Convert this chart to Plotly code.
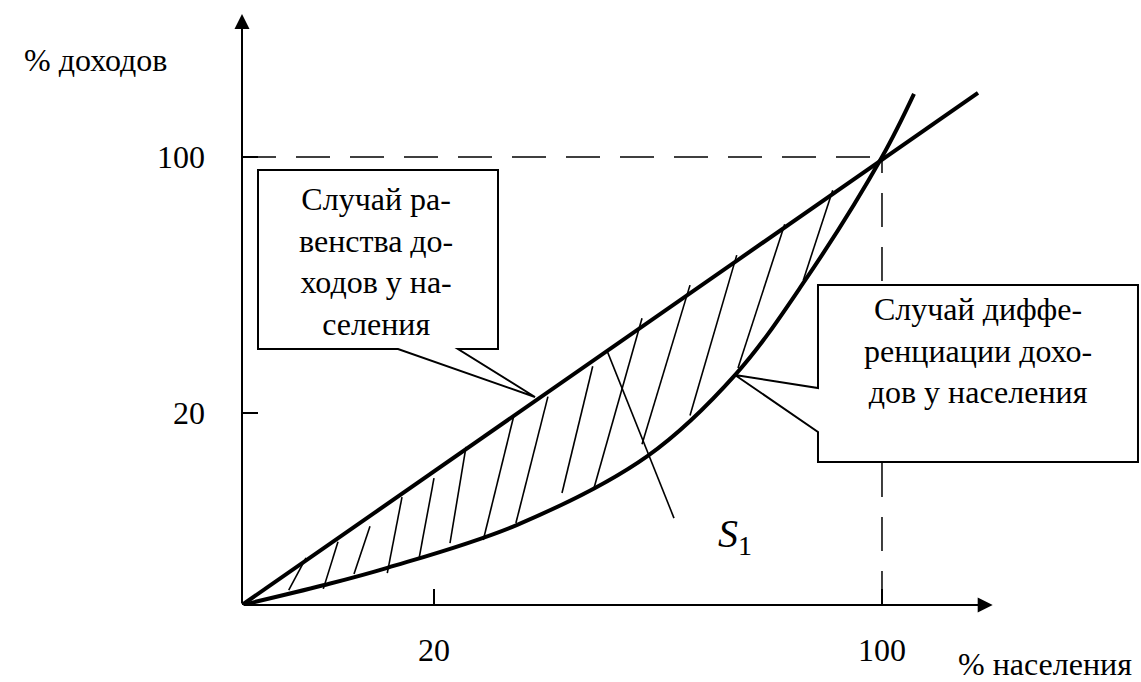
import plotly.graph_objects as go

# ---------------- data (schematic units: 100 = full population / full income) ----------------
lorenz_x = [0, 12.7, 22.7, 43.0, 63.4, 77.2, 88.0, 100, 105.0]
lorenz_y = [0, 4.4, 8.3, 17.9, 33.3, 51.6, 72.5, 100, 114.1]

equality_x = [0, 100, 115]
equality_y = [0, 99.4, 114.3]

hatch_x0 = [7.3, 12.7, 17.5, 22.7, 27.7, 32.5, 37.7, 42.8, 50.0, 55.0, 62.5, 70.0, 77.5, 87.7]
hatch_y0 = [3.3, 3.6, 6.9, 7.1, 10.7, 13.8, 14.5, 18.3, 25.0, 26.1, 35.9, 42.3, 52.9, 72.5]
hatch_x1 = [10.0, 15.0, 20.0, 25.0, 30.0, 35.0, 42.5, 47.8, 54.8, 62.5, 70.0, 77.3, 84.8, 92.3]
hatch_y1 = [10.5, 14.1, 17.6, 24.1, 28.3, 35.3, 42.4, 46.5, 53.3, 64.0, 71.4, 78.1, 85.0, 92.6]

s1_pointer_x = [57.0, 67.5]
s1_pointer_y = [56.9, 19.4]

x_tick_vals = [30, 100]
x_tick_text = ["20", "100"]
y_tick_vals = [42.9, 100]
y_tick_text = ["20", "100"]

full_level = 100

x_title = "% населения"
y_title = "% доходов"
box1_text = "Случай ра-<br>венства до-<br>ходов у на-<br>селения"
box2_text = "Случай диффе-<br>ренциации дохо-<br>дов у населения"
area_label = "<i>S</i><sub>1</sub>"

# ---------------- figure ----------------
FONT = "Liberation Serif, Times New Roman, serif"
fig = go.Figure()

hx, hy = [], []
for a, b, c, d in zip(hatch_x0, hatch_y0, hatch_x1, hatch_y1):
    hx += [a, c, None]
    hy += [b, d, None]
fig.add_trace(go.Scatter(x=hx, y=hy, mode="lines", line=dict(color="black", width=1.6),
                         hoverinfo="skip", showlegend=False))
fig.add_trace(go.Scatter(x=s1_pointer_x, y=s1_pointer_y, mode="lines",
                         line=dict(color="black", width=1.6), showlegend=False))
fig.add_trace(go.Scatter(x=equality_x, y=equality_y, mode="lines",
                         line=dict(color="black", width=4), showlegend=False))
fig.add_trace(go.Scatter(x=lorenz_x, y=lorenz_y, mode="lines",
                         line=dict(color="black", width=4, shape="spline", smoothing=1.0),
                         showlegend=False))

# dashed guide lines at 100 / 100
dash = "34px,20px"
fig.add_shape(type="line", x0=0, y0=full_level, x1=full_level, y1=full_level,
              line=dict(color="black", width=1.5, dash=dash), layer="below")
fig.add_shape(type="line", x0=full_level, y0=0, x1=full_level, y1=full_level,
              line=dict(color="black", width=1.5, dash=dash), layer="below")

# callout boxes
fig.add_shape(type="path",
              path="M 2.5 97.1 L 40.0 97.1 L 40.0 57.14 L 33.75 57.14 L 45.78 46.43 "
                   "L 24.38 57.14 L 2.5 57.14 Z",
              line=dict(color="black", width=2), fillcolor="white", layer="above")
fig.add_shape(type="path",
              path="M 90.0 71.43 L 140.0 71.43 L 140.0 31.92 L 90.0 31.92 L 90.0 38.62 "
                   "L 77.03 51.34 L 90.0 48.44 Z",
              line=dict(color="black", width=2), fillcolor="white", layer="above")

fig.add_annotation(x=20.9, y=76.6, text=box1_text, showarrow=False,
                   font=dict(family=FONT, size=32, color="black"), align="center")
fig.add_annotation(x=115.0, y=56.7, text=box2_text, showarrow=False,
                   font=dict(family=FONT, size=32, color="black"), align="center")
fig.add_annotation(x=74.0, y=15.5, text=area_label, showarrow=False, xanchor="left",
                   font=dict(family=FONT, size=40, color="black"))

# axes with arrows
fig.add_annotation(x=117.3, y=0, ax=0, ay=0, axref="x", ayref="y", text="",
                   showarrow=True, arrowhead=2, arrowsize=1.5, arrowwidth=2, arrowcolor="black")
fig.add_annotation(x=0, y=131.9, ax=0, ay=0, axref="x", ayref="y", text="",
                   showarrow=True, arrowhead=2, arrowsize=1.5, arrowwidth=2, arrowcolor="black")

# axis titles (paper coordinates, outside the plotting area)
fig.add_annotation(xref="paper", yref="paper", x=-0.1635, y=0.9008, text=y_title,
                   xanchor="center", yanchor="middle",
                   showarrow=False, font=dict(family=FONT, size=32, color="black"))
fig.add_annotation(xref="paper", yref="paper", x=0.8932, y=-0.0975, text=x_title,
                   xanchor="center", yanchor="middle",
                   showarrow=False, font=dict(family=FONT, size=32, color="black"))

axis_common = dict(showgrid=False, zeroline=False, showline=False, ticks="inside",
                   ticklen=16, tickwidth=2, tickcolor="black",
                   tickfont=dict(family=FONT, size=32, color="black"))
fig.update_xaxes(range=[0, 140.47], tickvals=x_tick_vals, ticktext=x_tick_text,
                 ticklabelstandoff=23, **axis_common)
fig.update_yaxes(range=[0, 135.04], tickvals=y_tick_vals, ticktext=y_tick_text,
                 ticklabelstandoff=36, **axis_common)

fig.update_layout(width=1141, height=682, margin=dict(l=242, r=0, t=0, b=77, pad=0),
                  plot_bgcolor="white", paper_bgcolor="white", showlegend=False)

fig.write_html("out.html", config={"displayModeBar": False},
               post_script="document.body.style.margin='0';")
